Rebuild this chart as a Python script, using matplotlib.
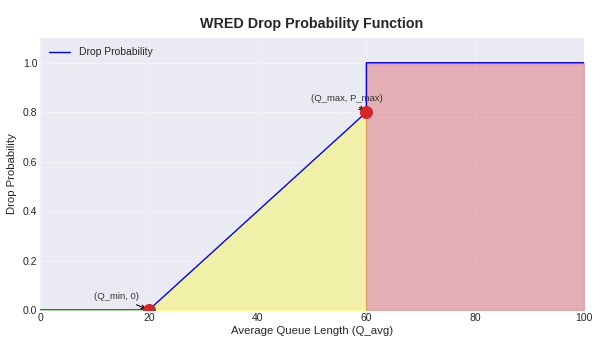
import matplotlib.pyplot as plt
import numpy as np

# WRED thresholds
q_min = 20
q_max = 60
p_max = 0.8
queue_max = 100

# piecewise drop curve
q_avg = [0, 20, 60, 60, 100]
drop_prob = [0.0, 0.0, 0.8, 1.0, 1.0]

plt.style.use("seaborn-v0_8-darkgrid")
plt.rcParams["font.family"] = ["Liberation Sans", "DejaVu Sans"]

fig = plt.figure(figsize=(5.94, 3.4), dpi=100)
ax = fig.add_axes([40 / 594, 30 / 340, 544 / 594, 272 / 340])

ax.plot(q_avg, drop_prob, color="blue", linewidth=1, label="Drop Probability", zorder=3)

# shaded regions
x1 = np.array([0, q_min])
ax.fill_between(x1, [0, 0], color="green", alpha=0.3)
x2 = np.array([q_min, q_max])
ax.fill_between(x2, [0, p_max], color="yellow", alpha=0.3)
x3 = np.array([q_max, queue_max])
ax.fill_between(x3, [1, 1], color="#d62728", alpha=0.3)

ax.scatter([q_min, q_max], [0, p_max], color="#d62728", s=70, zorder=5)
ax.annotate("(Q_min, 0)", xy=(q_min, 0), xytext=(-23, 8), textcoords="offset points",
            ha="center", fontsize=6.8, color="#333333",
            arrowprops=dict(arrowstyle="->", color="black", lw=0.8))
ax.annotate("(Q_max, P_max)", xy=(q_max, p_max), xytext=(-14, 8), textcoords="offset points",
            ha="center", fontsize=6.8, color="#333333",
            arrowprops=dict(arrowstyle="->", color="black", lw=0.8))

ax.grid(True, alpha=0.3)
ax.set_xlim(0, 100)
ax.set_ylim(0, 1.1)
ax.set_xlabel("Average Queue Length (Q_avg)", fontsize=8.2, labelpad=2)
ax.set_ylabel("Drop Probability", fontsize=8.2, labelpad=4)
ax.set_title("WRED Drop Probability Function", fontsize=10.3, fontweight="bold", pad=7)
ax.tick_params(labelsize=7.5, pad=2)
ax.legend(loc="upper left", fontsize=7.5)

fig.savefig("out.png", dpi=100)
